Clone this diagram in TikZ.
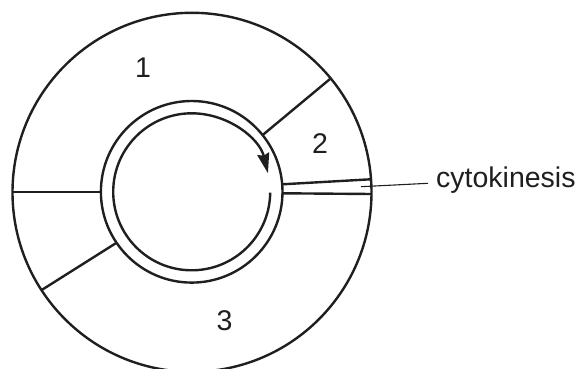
\documentclass[tikz,border=0pt]{standalone}
\usepackage{fontspec}
\setmainfont{Liberation Sans}
\usetikzlibrary{arrows.meta, calc}

\begin{document}
\begin{tikzpicture}[x=1pt, y=-1pt, line width=2.4pt, color={black!88},
		lbl/.style={inner sep=0pt, font=\fontsize{28.5}{34}\selectfont}]
		\useasboundingbox (0,0) rectangle (581,369);

		% Cell and nucleus
		\coordinate (cell) at (192,192.3);
		\coordinate (nuc) at (191.7,191.8);
		\draw (cell) circle (179.5);
		\draw (nuc) circle (90.8);
		\draw[-{Stealth[length=20pt,width=12pt,inset=2pt]}] ($(nuc)+(0.6:78.5)$) arc[start angle=0.6, end angle=346.3, radius=78.5];

		% Phase borders
		\coordinate (l1) at (100.9,192.1);
		\coordinate (l2) at (12.5,192.1);
		\coordinate (ur1) at (262.7,135);
		\coordinate (ur2) at (330,79);
		\coordinate (ll1) at (115.7,243.3);
		\coordinate (ll2) at (41.7,290);
		\coordinate (ru1) at (282.3,184.3);
		\coordinate (ru2) at (370.5,179.3);
		\coordinate (rd1) at (282.5,193.3);
		\coordinate (rd2) at (371.5,194);
		\draw (l1) -- (l2);
		\draw (ur1) -- (ur2);
		\draw (ll1) -- (ll2);
		\draw (ru1) -- (ru2);
		\draw (rd1) -- (rd2);

		% Phase numbers
		\node[lbl] (one) at (143,68) {1};
		\node[lbl] (two) at (320,144) {2};
		\node[lbl] (three) at (224.5,321) {3};

		% Cytokinesis label
		\node[lbl, anchor=base west] (cyto) at (435,187.3) {cytokinesis};
		\coordinate (cut) at (361,186.7);
		\draw[line width=1.1pt] (cut) -- ($(cyto.base west)+(-7,-4)$);
	\end{tikzpicture}
\end{document}
